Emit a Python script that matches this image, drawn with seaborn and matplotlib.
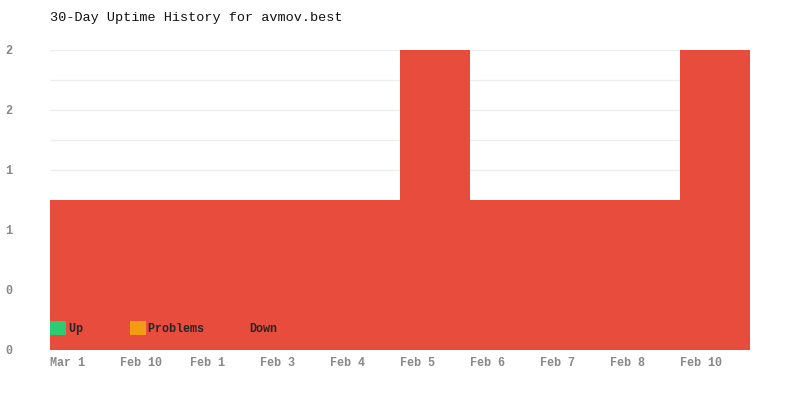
import matplotlib
matplotlib.use("Agg")
import matplotlib.pyplot as plt
import seaborn as sns
import numpy as np
import pandas as pd
from matplotlib.patches import Patch

# data
days = ["Mar 1", "Feb 10", "Feb 1", "Feb 3", "Feb 4", "Feb 5", "Feb 6", "Feb 7", "Feb 8", "Feb 10"]
up = [0, 0, 0, 0, 0, 0, 0, 0, 0, 0]
problems = [0, 0, 0, 0, 0, 0, 0, 0, 0, 0]
down = [1, 1, 1, 1, 1, 2, 1, 1, 1, 2]

colors = {"Up": "#2ecc71", "Problems": "#f39c12", "Down": "#e74c3c"}

df = pd.DataFrame({"idx": range(len(days)), "Up": up, "Problems": problems, "Down": down})
df["top_up"] = df["Up"]
df["top_prob"] = df["Up"] + df["Problems"]
df["top_down"] = df["top_prob"] + df["Down"]

sns.set_style("white")
plt.rcParams["font.family"] = ["Liberation Mono", "DejaVu Sans Mono"]

fig = plt.figure(figsize=(8, 4), dpi=100)
ax = fig.add_axes([0.0625, 0.125, 0.875, 0.75])

# stacked bars: totals first, then lower layers on top
sns.barplot(data=df, x="idx", y="top_down", color=colors["Down"], width=1.0,
            saturation=1, linewidth=0, ax=ax, zorder=2)
sns.barplot(data=df, x="idx", y="top_prob", color=colors["Problems"], width=1.0,
            saturation=1, linewidth=0, ax=ax, zorder=3)
sns.barplot(data=df, x="idx", y="top_up", color=colors["Up"], width=1.0,
            saturation=1, linewidth=0, ax=ax, zorder=4)

ax.set_xlim(-0.5, len(days) - 0.5)
ax.set_ylim(0, 2)
ax.set_xlabel("")
ax.set_ylabel("")

# ticks
ax.set_xticks(np.arange(len(days)) - 0.5)
ax.set_xticklabels(days, ha="left", fontsize=8.5, fontweight="bold", color="#888888")
yt = np.arange(0, 2.01, 0.4)
ax.set_yticks(yt)
ax.set_yticklabels([f"{v:.0f}" for v in yt], fontsize=8.5, fontweight="bold", color="#888888")
ax.set_yticks(np.arange(0, 2.01, 0.2), minor=True)
ax.tick_params(axis="both", which="both", length=0)
ax.tick_params(axis="x", pad=5)
ax.tick_params(axis="y", pad=27)

ax.grid(True, axis="y", which="both", color="#eeeeee", linewidth=1, zorder=0)
ax.set_axisbelow(True)
sns.despine(ax=ax, left=True, bottom=True)

# legend (labels padded to give the reference's column spacing)
pads = {"Up": 8, "Problems": 11, "Down": 4}
handles = [Patch(facecolor=colors[k], edgecolor="none", label=k.ljust(pads[k])) for k in ["Up", "Problems", "Down"]]
ax.legend(handles=handles, loc="lower left", bbox_to_anchor=(0.0, 0.05), ncol=3,
          frameon=False, handlelength=1.35, handleheight=1.35, handletextpad=0.25,
          columnspacing=0.4, borderaxespad=0, borderpad=0,
          prop={"family": "Liberation Mono", "weight": "bold", "size": 8.5})

fig.text(0.0625, 1 - 18 / 400, "30-Day Uptime History for avmov.best",
         fontsize=9.7, color="#111111", va="center", ha="left")

fig.savefig("out.png", dpi=100)
